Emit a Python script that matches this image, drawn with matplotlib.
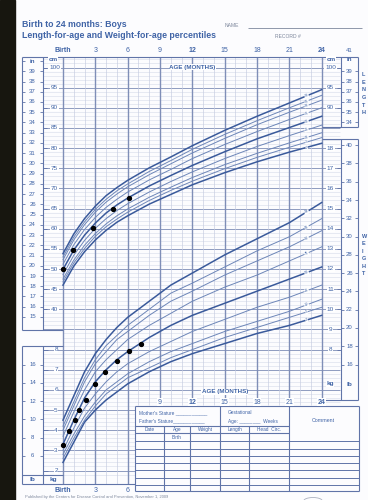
import matplotlib
matplotlib.use('Agg')
import matplotlib.pyplot as plt
from matplotlib.patches import Circle

plt.rcParams['font.family'] = ['Liberation Sans', 'DejaVu Sans']

# ---- percentile curves, boys birth to 24 months ----
age_months = [0, 1, 2, 3, 4, 5, 6, 8, 10, 12, 15, 18, 21, 24]

len_p2 = [46.0, 50.7, 54.3, 57.2, 59.6, 61.6, 63.2, 66.1, 68.5, 70.9, 73.9, 76.6, 79.0, 81.2]
len_p5 = [46.8, 51.5, 55.1, 58.1, 60.5, 62.4, 64.1, 67.0, 69.5, 71.8, 74.9, 77.7, 80.2, 82.6]
len_p10 = [47.5, 52.2, 55.9, 58.8, 61.2, 63.2, 64.9, 67.8, 70.3, 72.7, 75.9, 78.7, 81.3, 83.8]
len_p25 = [48.6, 53.4, 57.1, 60.1, 62.5, 64.5, 66.2, 69.1, 71.7, 74.1, 77.4, 80.4, 83.1, 85.7]
len_p50 = [49.9, 54.7, 58.4, 61.4, 63.9, 65.9, 67.6, 70.6, 73.2, 75.7, 79.1, 82.3, 85.1, 87.9]
len_p75 = [51.2, 56.0, 59.8, 62.8, 65.3, 67.3, 69.1, 72.1, 74.7, 77.4, 80.9, 84.1, 87.1, 90.0]
len_p90 = [52.3, 57.2, 61.0, 64.1, 66.6, 68.6, 70.4, 73.4, 76.1, 78.8, 82.4, 85.8, 88.9, 91.9]
len_p95 = [53.0, 57.9, 61.7, 64.8, 67.3, 69.4, 71.1, 74.2, 76.9, 79.7, 83.4, 86.8, 90.0, 93.1]
len_p98 = [53.8, 58.7, 62.5, 65.6, 68.2, 70.2, 72.0, 75.1, 77.8, 80.6, 84.4, 87.9, 91.2, 94.5]

wt_p2 = [2.4, 3.4, 4.4, 5.0, 5.5, 5.9, 6.3, 6.9, 7.4, 7.8, 8.3, 8.8, 9.2, 9.7]
wt_p5 = [2.6, 3.6, 4.5, 5.2, 5.8, 6.2, 6.6, 7.1, 7.6, 8.0, 8.6, 9.1, 9.6, 10.1]
wt_p10 = [2.8, 3.8, 4.7, 5.4, 6.0, 6.4, 6.8, 7.4, 7.9, 8.3, 8.9, 9.4, 9.9, 10.5]
wt_p25 = [3.0, 4.1, 5.1, 5.8, 6.4, 6.9, 7.3, 7.9, 8.4, 8.9, 9.5, 10.1, 10.6, 11.2]
wt_p50 = [3.3, 4.5, 5.6, 6.4, 7.0, 7.5, 7.9, 8.6, 9.2, 9.7, 10.3, 10.9, 11.5, 12.1]
wt_p75 = [3.7, 4.9, 6.0, 6.9, 7.5, 8.0, 8.5, 9.2, 9.8, 10.4, 11.1, 11.7, 12.4, 13.1]
wt_p90 = [4.0, 5.2, 6.4, 7.3, 7.9, 8.5, 8.9, 9.7, 10.4, 10.9, 11.7, 12.4, 13.1, 13.9]
wt_p95 = [4.2, 5.4, 6.6, 7.5, 8.2, 8.7, 9.2, 10.0, 10.8, 11.3, 12.1, 12.9, 13.6, 14.5]
wt_p98 = [4.5, 5.7, 6.9, 7.8, 8.5, 9.1, 9.6, 10.4, 11.2, 11.8, 12.7, 13.5, 14.3, 15.3]

percentile_names = ['2', '5', '10', '25', '50', '75', '90', '95', '98']
bold_percentiles = ['2', '50', '98']

# ---- recorded measurements (black dots) ----
len_obs_age = [0, 0.9, 2.8, 4.6, 6.1]
len_obs_cm = [49.9, 54.7, 60.1, 64.9, 67.5]
wt_obs_age = [0, 0.6, 1.1, 1.5, 2.1, 3.0, 3.9, 5.0, 6.1, 7.2]
wt_obs_kg = [3.25, 3.95, 4.5, 5.0, 5.5, 6.3, 6.9, 7.45, 7.95, 8.3]

# ---- tick labels ----
top_months = [0, 3, 6, 9, 12, 15, 18, 21, 24]
top_month_labels = ['Birth', '3', '6', '9', '12', '15', '18', '21', '24']
bottom_months = [9, 12, 15, 18, 21, 24]
bottom_left_months = [0, 3, 6]
bold_months = [0, 12, 24]
left_inches = list(range(15, 40))
left_cm = list(range(40, 101, 5))
right_cm = [90, 95, 100]
right_inches = [34, 35, 36, 37, 38, 39, 41]
right_kg = list(range(8, 19))
right_lb = list(range(16, 41, 2))
left_kg = list(range(2, 9))
left_lb = list(range(6, 17, 2))

TEXT = '#3f63a6'
BOLD_CURVE = '#3a5a9b'
THIN_CURVE = '#6d86b8'
GRID_MINOR = '#d6dae9'
GRID_VMINOR = '#c5cbe0'
GRID_MAJOR = '#8e9bc0'
GRID_VMAJOR = '#7f8eb7'
FRAME = '#6074a8'
GREY = '#7d879c'

# page layout: pixel positions of birth / 50 cm on the printed sheet
X0, PX_MONTH = 63.0, 10.78
Y50, PX_CM = 269.0, 4.03


def mx(px):
    return (px - X0) / PX_MONTH


def cy(py):
    return 50 + (Y50 - py) / PX_CM


fig = plt.figure(figsize=(3.68, 5.0), dpi=100)
fig.patch.set_facecolor('#fcfcfe')
ax = fig.add_axes([0, 0, 1, 1])
ax.set_xlim(mx(0), mx(368))
ax.set_ylim(cy(500), cy(0))
ax.axis('off')
# weight axis: 1 kg spans 5 cm of the printed grid, 12 kg sits on 50 cm
axw = ax.twinx()
axw.set_ylim((cy(500) + 10) / 5, (cy(0) + 10) / 5)
axw.axis('off')


def seg(x1, y1, x2, y2, lw=0.8, color=FRAME, z=3):
    ax.plot([mx(x1), mx(x2)], [cy(y1), cy(y2)], color=color, lw=lw, zorder=z,
            solid_capstyle='butt')


def txt(x, y, s, size=4.5, bold=False, color=TEXT, ha='center', bg=False, axis=None, **kw):
    a = axis if axis is not None else ax
    extra = {}
    if bg:
        extra['bbox'] = dict(fc='white', ec='none', pad=0.4)
    a.text(x, y, s, fontsize=size, fontweight='bold' if bold else 'normal', color=color,
           ha=ha, va='center', zorder=6, **extra, **kw)


ax.axvspan(mx(0), mx(15), color='#17160f', zorder=10)


def hgrid(c, x1, x2):
    major = c % 5 == 0
    ax.hlines(c, x1, x2, color=GRID_MAJOR if major else GRID_MINOR,
              lw=0.7 if major else 0.4, zorder=1)


# ---- grid ----
for c in range(17, 103):
    hgrid(c, 0, mx(340))
for c in list(range(35, 103)) + list(range(-1, 31)):
    hgrid(c, mx(43), 0)
for c in range(-1, 17):
    hgrid(c, 0, mx(135))
for m in range(0, 25):
    major = m % 3 == 0
    bottom = cy(484) if m <= 6 else cy(405)
    ax.vlines(m, bottom, cy(57), color=GRID_VMAJOR if major else GRID_VMINOR,
              lw=1.0 if major else 0.45, zorder=1)

# ---- frames ----
seg(22, 57, 358, 57)
for x in (22, 43):
    seg(x, 57, x, 330)
    seg(x, 346, x, 484)
seg(22, 330, 63, 330)
seg(22, 346, 63, 346)
seg(22, 475, 63, 475)
seg(22, 484, 135, 484)
for x in (341, 358):
    seg(x, 57, x, 127)
    seg(x, 139, x, 400)
seg(322, 127, 358, 127)
seg(322, 139, 358, 139)
seg(322, 400, 358, 400)

# ---- table ----
seg(135, 406, 359, 406)
seg(135, 491, 359, 491)
for x in (135, 220, 288.7, 359):
    seg(x, 406, x, 491)
for x in (164.3, 190, 249.3):
    seg(x, 426, x, 491)
seg(135, 426, 288.7, 426)
seg(135, 433, 288.7, 433)
for y in (441, 448.5, 455.5, 462.8, 470, 477.5, 485):
    seg(135, y, 359, y, lw=0.7)
txt(mx(139), cy(412.5), "Mother's Stature ____________", size=3.4, ha='left')
txt(mx(139), cy(421), "Father's Stature____________", size=3.4, ha='left')
txt(mx(228), cy(412.5), 'Gestational', size=3.4, ha='left')
txt(mx(228), cy(421), 'Age: ________  Weeks', size=3.4, ha='left')
txt(mx(323.5), cy(421), 'Comment', size=3.8)
for xc, lab in zip((149.5, 177, 205, 234.5, 268.8), ('Date', 'Age', 'Weight', 'Length', 'Head  Circ.')):
    txt(mx(xc), cy(429.5), lab, size=3.4)
txt(mx(177), cy(437.5), 'Birth', size=3.4)

# ---- percentile curves ----
len_series = [len_p2, len_p5, len_p10, len_p25, len_p50, len_p75, len_p90, len_p95, len_p98]
wt_series = [wt_p2, wt_p5, wt_p10, wt_p25, wt_p50, wt_p75, wt_p90, wt_p95, wt_p98]
lab_age = 22.6
for name, lvals, wvals in zip(percentile_names, len_series, wt_series):
    bold = name in bold_percentiles
    color = BOLD_CURVE if bold else THIN_CURVE
    lw = 1.1 if bold else 0.7
    ax.plot(age_months, lvals, color=color, lw=lw, zorder=3)
    axw.plot(age_months, wvals, color=color, lw=lw, zorder=3)
    ax.text(lab_age, lvals[-2] + (lvals[-1] - lvals[-2]) * (lab_age - 21) / 3, name,
            fontsize=2.6, color=TEXT, ha='center', va='center', zorder=5, rotation=12,
            bbox=dict(fc='white', ec='none', pad=0.1))
    axw.text(lab_age, wvals[-2] + (wvals[-1] - wvals[-2]) * (lab_age - 21) / 3, name,
             fontsize=2.8, color=TEXT, ha='center', va='center', zorder=5, rotation=15,
             bbox=dict(fc='white', ec='none', pad=0.1))

ax.plot(len_obs_age, len_obs_cm, 'o', color='black', ms=2.8, zorder=7)
axw.plot(wt_obs_age, wt_obs_kg, 'o', color='black', ms=2.8, zorder=7)

# ---- month labels ----
for m, lab in zip(top_months, top_month_labels):
    txt(m, cy(50), lab, size=5, bold=m in bold_months)
for m in bottom_months:
    txt(m, cy(402), str(m), size=5, bold=m in bold_months, bg=True)
for m, lab in zip(bottom_left_months, ['Birth', '3', '6']):
    txt(m, cy(490), lab, size=5, bold=m in bold_months)
txt(12, cy(67), 'AGE (MONTHS)', size=4.5, bold=True, bg=True)
txt(15, cy(392), 'AGE (MONTHS)', size=4.5, bold=True, bg=True)

# ---- left length scales ----
for inch in left_inches + [40]:
    y = inch * 2.54
    ax.hlines(y, mx(22), mx(25), color=FRAME, lw=0.6, zorder=3)
    ax.hlines(y, mx(40), mx(43), color=FRAME, lw=0.6, zorder=3)
for inch in left_inches:
    txt(mx(32.5), inch * 2.54, str(inch), size=4.3)
txt(mx(32.5), 40 * 2.54, 'in', size=4.5, bold=True)
for c in left_cm:
    ax.hlines(c, mx(43), mx(46.5), color=FRAME, lw=0.6, zorder=3)
    txt(mx(54.5), c, str(c), size=4.6, bg=True)
txt(mx(53), cy(59.5), 'cm', size=4.6, bold=True, bg=True)

# ---- right length scales ----
for c in right_cm:
    ax.hlines(c, mx(337), mx(341), color=FRAME, lw=0.6, zorder=3)
    txt(mx(330.5), c, str(c), size=4.6, bg=True)
txt(mx(331), cy(59.5), 'cm', size=4.6, bold=True, bg=True)
for inch in right_inches:
    y = inch * 2.54
    if inch < 41:
        ax.hlines(y, mx(341), mx(344), color=FRAME, lw=0.6, zorder=3)
        ax.hlines(y, mx(355), mx(358), color=FRAME, lw=0.6, zorder=3)
    txt(mx(349.5), y, str(inch), size=4.3)
txt(mx(349.5), cy(59.5), 'in', size=4.5, bold=True)

# ---- weight scales ----
for k in right_kg:
    axw.hlines(k, mx(337), mx(341), color=FRAME, lw=0.6, zorder=3)
    txt(mx(330.5), k, str(k), size=4.6, bg=True, axis=axw)
for lb in right_lb:
    y = lb * 0.4536
    axw.hlines(y, mx(341), mx(344), color=FRAME, lw=0.6, zorder=3)
    axw.hlines(y, mx(355), mx(358), color=FRAME, lw=0.6, zorder=3)
    txt(mx(349.5), y, str(lb), size=4.3, axis=axw)
txt(mx(330), cy(384), 'kg', size=4.6, bold=True, bg=True)
txt(mx(349.5), cy(384), 'lb', size=4.6, bold=True)
for k in left_kg:
    axw.hlines(k, mx(43), mx(47.5), color=FRAME, lw=0.6, zorder=3)
    txt(mx(56), k, str(k), size=4.6, bg=True, axis=axw)
for lb in left_lb:
    y = lb * 0.4536
    axw.hlines(y, mx(22), mx(25), color=FRAME, lw=0.6, zorder=3)
    axw.hlines(y, mx(40), mx(43), color=FRAME, lw=0.6, zorder=3)
    txt(mx(32.5), y, str(lb), size=4.3, axis=axw)
txt(mx(32.5), cy(479.5), 'lb', size=4.6, bold=True)
txt(mx(53), cy(479.5), 'kg', size=4.6, bold=True)

# ---- header ----
txt(mx(22), cy(24.5), 'Birth to 24 months: Boys', size=6.3, bold=True, ha='left')
txt(mx(22), cy(35.5), 'Length-for-age and Weight-for-age percentiles', size=6.3, bold=True, ha='left')
txt(mx(225), cy(25), 'NAME', size=3.6, color=GREY, ha='left')
seg(248, 28, 362, 28, lw=0.6, color=GREY)
txt(mx(275), cy(36), 'RECORD #', size=3.6, color=GREY, ha='left')
for y, ch in zip((74, 82, 89.5, 97, 105, 113), 'LENGTH'):
    txt(mx(361.5), cy(y), ch, size=4.0, bold=True, ha='left')
for y, ch in zip((236, 243.5, 251, 258.5, 266, 273.5), 'WEIGHT'):
    txt(mx(361.5), cy(y), ch, size=4.0, bold=True, ha='left')
txt(mx(25), cy(497), 'Published by the Centers for Disease Control and Prevention, November 1, 2009',
    size=2.9, color=GREY, ha='left')
ax.add_patch(Circle((mx(313), cy(501)), 2.6 / 3, fill=False, ec='#aab0bf', lw=0.6, zorder=3))

fig.savefig('out.png', dpi=100, facecolor=fig.get_facecolor())
